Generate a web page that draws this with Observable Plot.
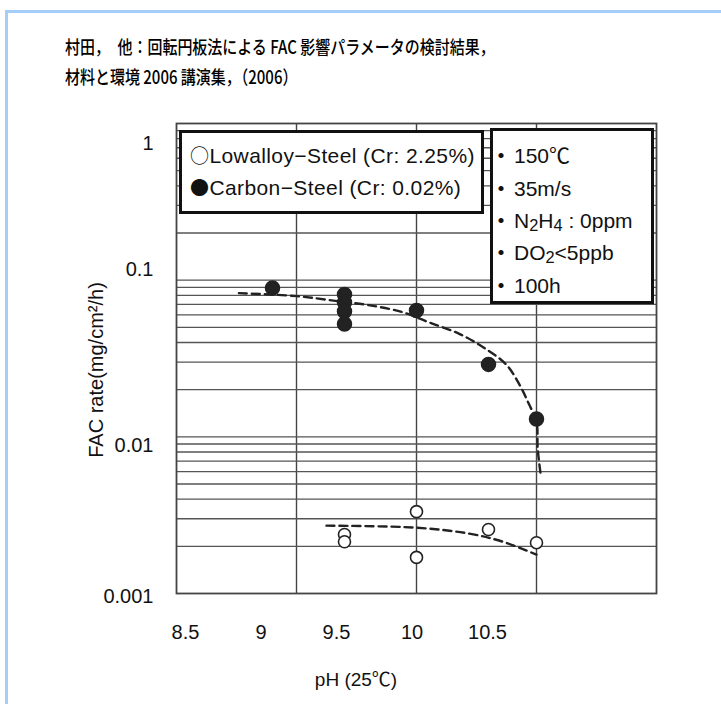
<!DOCTYPE html>
<html><head><meta charset="utf-8">
<script src="https://cdn.jsdelivr.net/npm/d3@7"></script>
<script src="https://cdn.jsdelivr.net/npm/@observablehq/plot@0.6"></script>
<style>
body{margin:0;background:#fff;font-family:"Liberation Sans",Arial,"Noto Sans CJK JP",sans-serif;color:#111;}
#page{position:relative;width:721px;height:704px;overflow:hidden;background:#fff;}
#border{position:absolute;left:5px;top:10px;width:760px;height:760px;border-top:3px solid #a4cdf8;border-left:3px solid #a4cdf8;}
#title{position:absolute;left:65px;top:31px;font-size:18.5px;line-height:30px;font-family:"Noto Sans CJK JP",sans-serif;font-weight:500;color:#000;white-space:nowrap;transform:scaleX(0.81);transform-origin:left top;}
.layer{position:absolute;left:0;top:100px;}
.box{position:absolute;background:#fff;border:3px solid #111;box-sizing:border-box;font-size:21px;line-height:24px;color:#111;white-space:nowrap;}
.box > div{position:absolute;}
.sym{font-family:"Noto Sans CJK JP",sans-serif;font-size:19px;}
.dot{display:inline-block;width:26px;text-align:center;font-family:"Noto Sans CJK JP",sans-serif;font-size:20px;font-weight:700;}
sub{font-size:0.78em;vertical-align:-0.18em;line-height:0;}
#ytitle{position:absolute;left:96px;top:370px;transform:translate(-50%,-50%) rotate(-90deg);font-size:20px;white-space:nowrap;}
#xtitle{position:absolute;left:356px;top:677px;transform:translate(-50%,-50%);font-size:19px;white-space:nowrap;}
</style></head>
<body>
<div id="page">
  <div id="border"></div>
  <div id="title">村田，　他：回転円板法による FAC 影響パラメータの検討結果，<br>材料と環境 2006 講演集，（2006）</div>
  <div id="mainPlot" class="layer"></div>
  <div id="axisPlot" class="layer"></div>
  <div class="box" style="left:179px;top:130px;width:305px;height:84px;letter-spacing:0.4px;">
    <div style="left:8px;top:10px;"><span class="sym">○</span>Lowalloy−Steel (Cr: 2.25%)</div>
    <div style="left:8px;top:42px;"><span class="sym">●</span>Carbon−Steel (Cr: 0.02%)</div>
  </div>
  <div class="box" style="left:490px;top:128px;width:164px;height:176px;">
    <div style="left:-5px;top:12px;"><span class="dot">・</span>150℃</div>
    <div style="left:-5px;top:45px;"><span class="dot">・</span>35m/s</div>
    <div style="left:-5px;top:77px;"><span class="dot">・</span>N<sub>2</sub>H<sub>4</sub> : 0ppm</div>
    <div style="left:-5px;top:109px;"><span class="dot">・</span>DO<sub>2</sub>&lt;5ppb</div>
    <div style="left:-5px;top:142px;"><span class="dot">・</span>100h</div>
  </div>
  <div id="ytitle">FAC rate(mg/cm²/h)</div>
  <div id="xtitle">pH (25℃)</div>
</div>
<script>
// Carbon steel (filled circles)
const carbonPH   = [8.9, 9.2, 9.2, 9.2, 9.2, 9.5, 9.8, 10.0];
const carbonRate = [0.089, 0.081, 0.072, 0.063, 0.0525, 0.064, 0.029, 0.013];
// Low-alloy steel (open circles)
const lowPH   = [9.2, 9.2, 9.5, 9.5, 9.8, 10.0];
const lowRate = [0.00238, 0.00214, 0.00333, 0.0017, 0.00256, 0.00211];
// Dashed trend curves
const carbonFitPH   = [8.76, 9.0, 9.17, 9.3, 9.44, 9.55, 9.68, 9.79, 9.875, 9.93, 9.97, 10.0, 10.005, 10.017];
const carbonFitRate = [0.0826, 0.0791, 0.0735, 0.0693, 0.0626, 0.0539, 0.0453, 0.0363, 0.0288, 0.0214, 0.016, 0.0125, 0.0084, 0.0058];
const lowFitPH   = [9.125, 9.5, 9.72, 9.86, 10.0];
const lowFitRate = [0.00271, 0.00263, 0.00241, 0.00214, 0.00177];
// Grid and tick labels
const xGrid = [9, 9.5, 10];
const yGrid = [0.002,0.003,0.004,0.005,0.006,0.007,0.008,0.009,0.01,
               0.02,0.03,0.04,0.05,0.06,0.07,0.08,0.09,0.1,
               0.2,0.3,0.4,0.5,0.6,0.7,0.8,0.9];
const xTicks = [8.5, 9, 9.5, 10, 10.5];
const yTicks = [0.001, 0.01, 0.1, 1];

const carbon = carbonPH.map((x,i)=>({x, y: carbonRate[i]}));
const low = lowPH.map((x,i)=>({x, y: lowRate[i]}));
const carbonFit = carbonFitPH.map((x,i)=>({x, y: carbonFitRate[i]}));
const lowFit = lowFitPH.map((x,i)=>({x, y: lowFitRate[i]}));

const main = Plot.plot({
  width: 721, height: 600,
  marginTop: 23, marginBottom: 107, marginLeft: 176, marginRight: 65,
  x: {domain: [8.5, 10.5], axis: null},
  y: {type: "log", domain: [0.001, 1], axis: null},
  marks: [
    Plot.ruleX(xGrid, {stroke: "#444", strokeWidth: 1.4}),
    Plot.ruleY(yGrid, {stroke: "#555", strokeWidth: 1.3}),
    Plot.frame({stroke: "#444", strokeWidth: 1.8}),
    Plot.line(carbonFit, {x: "x", y: "y", curve: "catmull-rom", stroke: "#222", strokeWidth: 2.4, strokeDasharray: "8,5"}),
    Plot.line(lowFit, {x: "x", y: "y", curve: "catmull-rom", stroke: "#222", strokeWidth: 2.4, strokeDasharray: "8,5"}),
    Plot.dot(carbon, {x: "x", y: "y", r: 7, fill: "#222", stroke: "#222"}),
    Plot.dot(low, {x: "x", y: "y", r: 6, fill: "#fff", stroke: "#222", strokeWidth: 1.6})
  ]
});
document.getElementById("mainPlot").appendChild(main);

// Tick labels as placed in the reference (their own scales, offset from the grid)
const axes = Plot.plot({
  width: 721, height: 600,
  marginTop: 43, marginBottom: 62, marginLeft: 153, marginRight: 200,
  style: {background: "transparent", fontSize: "20px", fontFamily: "'Liberation Sans', Arial, sans-serif"},
  x: {domain: [8.5, 10.5], range: [185, 487], axis: null},
  y: {type: "log", domain: [0.001, 0.01, 0.1, 1], range: [496, 345, 169, 43], axis: null},
  marks: [
    Plot.text(xTicks, {x: d => d, frameAnchor: "bottom", text: d => String(d), fill: "#111", fontSize: 20}),
    Plot.text(yTicks, {y: d => d, frameAnchor: "left", textAnchor: "end", text: d => String(d), fill: "#111", fontSize: 20})
  ]
});
document.getElementById("axisPlot").appendChild(axes);
</script>
</body></html>
